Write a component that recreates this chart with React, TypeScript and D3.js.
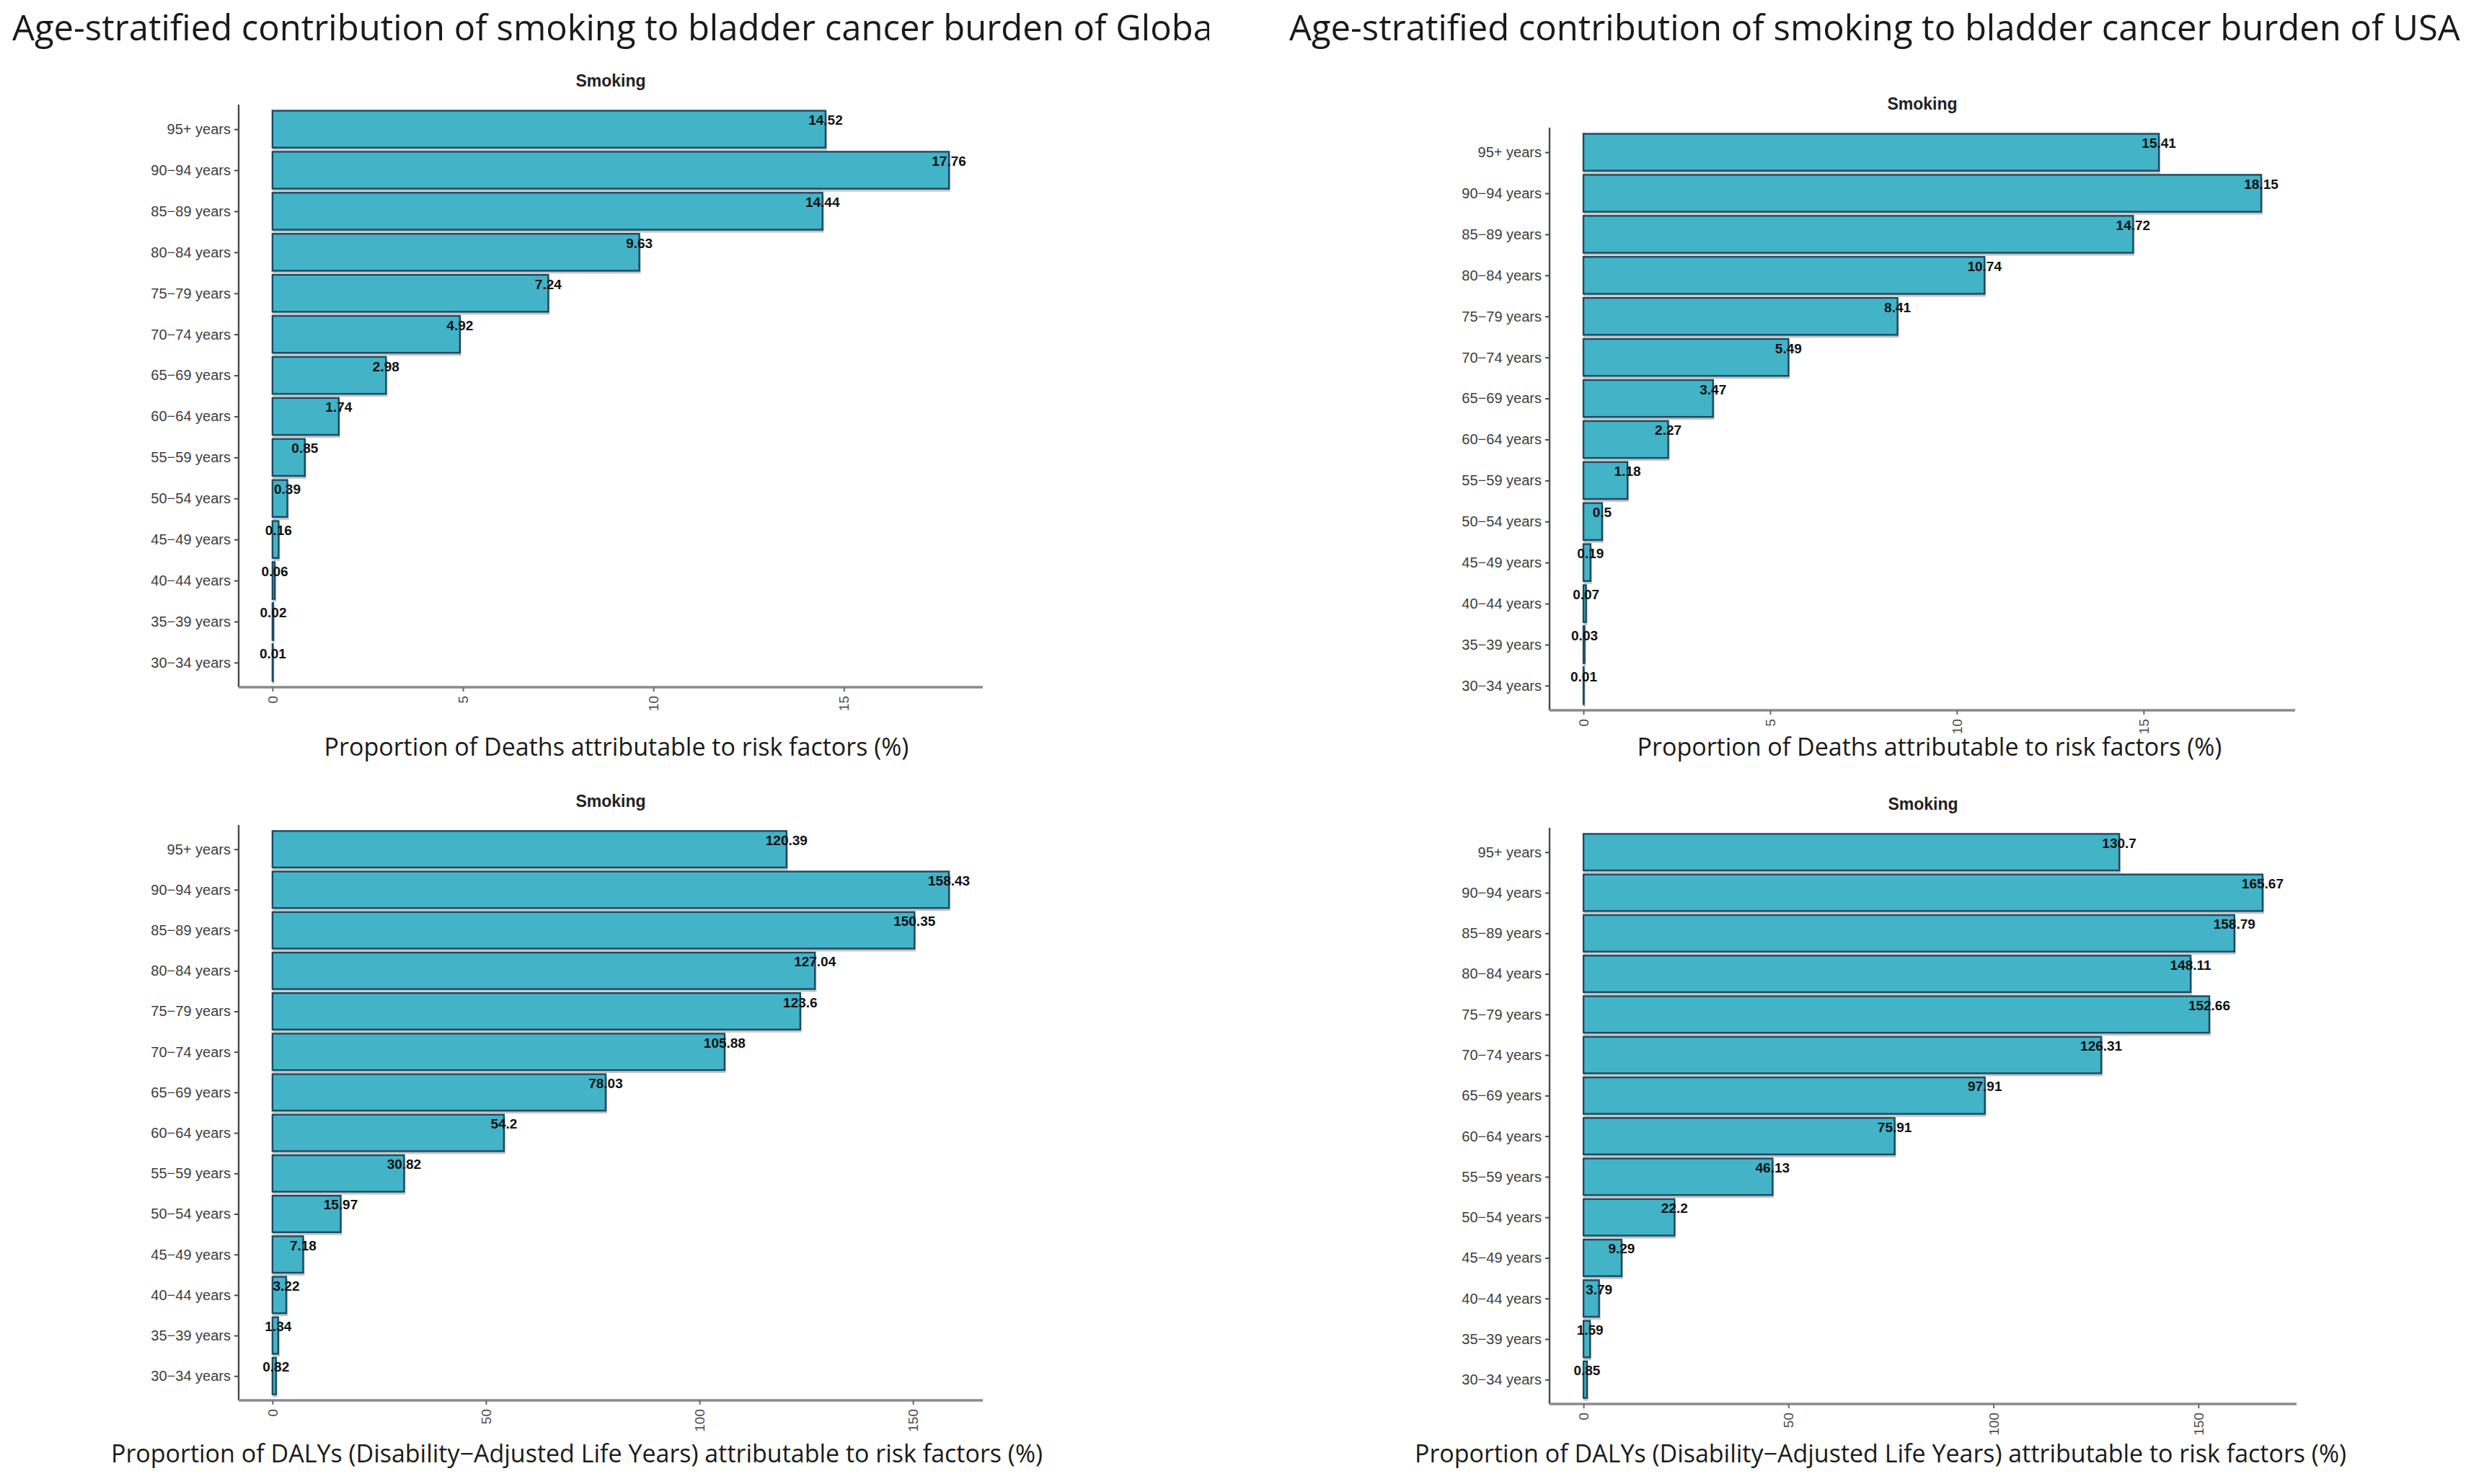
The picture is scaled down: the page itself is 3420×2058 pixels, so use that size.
import React, { useEffect, useRef } from 'react';
import * as d3 from 'd3';

const ageGroups = [
  '95+ years', '90−94 years', '85−89 years', '80−84 years', '75−79 years',
  '70−74 years', '65−69 years', '60−64 years', '55−59 years', '50−54 years',
  '45−49 years', '40−44 years', '35−39 years', '30−34 years',
];

const globalDeaths = [14.52, 17.76, 14.44, 9.63, 7.24, 4.92, 2.98, 1.74, 0.85, 0.39, 0.16, 0.06, 0.02, 0.01];
const usaDeaths = [15.41, 18.15, 14.72, 10.74, 8.41, 5.49, 3.47, 2.27, 1.18, 0.5, 0.19, 0.07, 0.03, 0.01];
const globalDalys = [120.39, 158.43, 150.35, 127.04, 123.6, 105.88, 78.03, 54.2, 30.82, 15.97, 7.18, 3.22, 1.34, 0.82];
const usaDalys = [130.7, 165.67, 158.79, 148.11, 152.66, 126.31, 97.91, 75.91, 46.13, 22.2, 9.29, 3.79, 1.59, 0.85];

const deathTicks = [0, 5, 10, 15];
const dalyTicks = [0, 50, 100, 150];

const deathsTitle = 'Proportion of Deaths attributable to risk factors (%)';
const dalysTitle = 'Proportion of DALYs (Disability−Adjusted Life Years) attributable to risk factors (%)';
const panelTitle = 'Smoking';
const globalHeading = 'Age-stratified contribution of smoking to bladder cancer burden of Global';
const usaHeading = 'Age-stratified contribution of smoking to bladder cancer burden of USA';

const W = 3420;
const H = 2058;
const titleFont = '"Open Sans", "Noto Sans", sans-serif';
const axisFont = '"Liberation Sans", Arial, sans-serif';
const barFill = '#43b3c8';
const barStroke = '#1b4a60';

type Panel = {
  values: number[];
  ticks: number[];
  left: number;
  right: number;
  top: number;
  bottom: number;
  axisTitle: string;
  axisTitleX: number;
  axisTitleY: number;
};

export default function App() {
  const svgRef = useRef<SVGSVGElement>(null);

  useEffect(() => {
    if (!svgRef.current) return;
    const svg = d3.select(svgRef.current);
    svg.selectAll('*').remove();

    svg.append('rect').attr('width', W).attr('height', H).attr('fill', '#fff');

    // headings, the left one is cut off at the panel edge like the source
    svg.append('defs').append('clipPath').attr('id', 'leftClip')
      .append('rect').attr('x', 0).attr('y', 0).attr('width', 1677).attr('height', 120);

    svg.append('text')
      .attr('clip-path', 'url(#leftClip)')
      .attr('x', 17).attr('y', 56)
      .style('font-family', titleFont).style('font-size', '49px').attr('fill', '#1a1a1a')
      .text(globalHeading);

    svg.append('text')
      .attr('x', 1788).attr('y', 56)
      .style('font-family', titleFont).style('font-size', '49px').attr('fill', '#1a1a1a')
      .text(usaHeading);

    const panels: Panel[] = [
      { values: globalDeaths, ticks: deathTicks, left: 331, right: 1363, top: 145, bottom: 953,
        axisTitle: deathsTitle, axisTitleX: 855, axisTitleY: 1048 },
      { values: usaDeaths, ticks: deathTicks, left: 2149, right: 3183, top: 177, bottom: 985,
        axisTitle: deathsTitle, axisTitleX: 2676, axisTitleY: 1048 },
      { values: globalDalys, ticks: dalyTicks, left: 331, right: 1363, top: 1144, bottom: 1942,
        axisTitle: dalysTitle, axisTitleX: 800, axisTitleY: 2028 },
      { values: usaDalys, ticks: dalyTicks, left: 2149, right: 3185, top: 1148, bottom: 1947,
        axisTitle: dalysTitle, axisTitleX: 2608, axisTitleY: 2028 },
    ];

    panels.forEach(p => {
      const g = svg.append('g');
      const max = d3.max(p.values) ?? 1;

      const x = d3.scaleLinear()
        .domain([-0.05 * max, 1.05 * max])
        .range([p.left, p.right]);

      const y = d3.scalePoint<string>()
        .domain(ageGroups)
        .range([p.top, p.bottom])
        .padding(0.6);

      const barH = y.step() * 0.9;
      const rows = ageGroups.map((age, i) => ({ age, value: p.values[i] }));

      // panel title
      g.append('text')
        .attr('x', (p.left + p.right) / 2)
        .attr('y', p.top - 25)
        .attr('text-anchor', 'middle')
        .style('font-family', axisFont).style('font-size', '23px').style('font-weight', 'bold')
        .attr('fill', '#222')
        .text(panelTitle);

      // shadow strip under each bar
      g.selectAll('.shadow')
        .data(rows)
        .enter()
        .append('rect')
        .attr('x', x(0))
        .attr('y', d => (y(d.age) ?? 0) - barH / 2 + 4)
        .attr('width', d => x(d.value) - x(0) + 2)
        .attr('height', barH)
        .attr('fill', '#c4c4c4');

      g.selectAll('.bar')
        .data(rows)
        .enter()
        .append('rect')
        .attr('x', x(0))
        .attr('y', d => (y(d.age) ?? 0) - barH / 2)
        .attr('width', d => x(d.value) - x(0))
        .attr('height', barH)
        .attr('fill', barFill)
        .attr('stroke', barStroke)
        .attr('stroke-width', 2.4);

      g.selectAll('.val')
        .data(rows)
        .enter()
        .append('text')
        .attr('x', d => x(d.value))
        .attr('y', d => (y(d.age) ?? 0) - 6)
        .attr('text-anchor', 'middle')
        .style('font-family', axisFont).style('font-size', '19px').style('font-weight', 'bold')
        .attr('fill', '#111')
        .text(d => String(d.value));

      // y axis
      const yAxis = g.append('g')
        .attr('transform', `translate(${p.left},0)`)
        .call(d3.axisLeft(y).tickSize(6).tickPadding(5));
      yAxis.select('.domain').attr('stroke', '#4a4a4a').attr('stroke-width', 2.4)
        .attr('d', `M0,${p.top}V${p.bottom}`);
      yAxis.selectAll('.tick line').attr('stroke', '#4a4a4a').attr('stroke-width', 2);
      yAxis.selectAll('.tick text')
        .style('font-family', axisFont).style('font-size', '20px').attr('fill', '#3d3d3d');

      // x axis
      const xAxis = g.append('g')
        .attr('transform', `translate(0,${p.bottom})`)
        .call(d3.axisBottom(x).tickValues(p.ticks).tickSize(6).tickPadding(4));
      xAxis.select('.domain').attr('stroke', '#8a8a8a').attr('stroke-width', 3.5)
        .attr('d', `M${p.left},0H${p.right}`);
      xAxis.selectAll('.tick line').attr('stroke', '#6a6a6a').attr('stroke-width', 2);
      xAxis.selectAll('.tick text')
        .attr('transform', 'rotate(-90)')
        .attr('x', -12).attr('y', 0).attr('dy', '0.35em')
        .attr('text-anchor', 'end')
        .style('font-family', axisFont).style('font-size', '19px').attr('fill', '#4d4d4d');

      g.append('text')
        .attr('x', p.axisTitleX)
        .attr('y', p.axisTitleY)
        .attr('text-anchor', 'middle')
        .style('font-family', titleFont).style('font-size', '34px').attr('fill', '#1a1a1a')
        .text(p.axisTitle);
    });
  }, []);

  return (
    <svg
      ref={svgRef}
      width={W}
      height={H}
      style={{ position: 'absolute', left: 0, top: 0, display: 'block' }}
    />
  );
}
